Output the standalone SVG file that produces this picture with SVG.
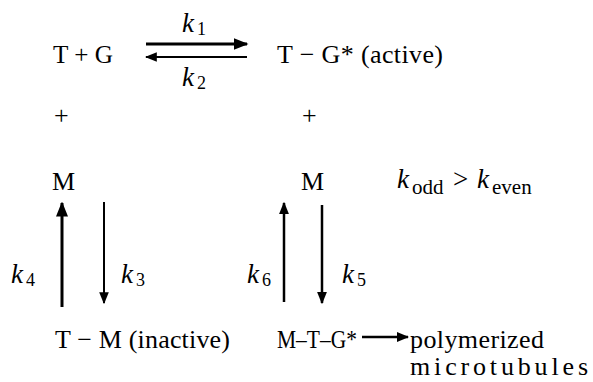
<svg xmlns="http://www.w3.org/2000/svg" width="593" height="382" viewBox="0 0 593 382">
<style>
text{font-family:"Liberation Serif","Times New Roman",serif;fill:#000;font-size:26px}
.k{font-style:italic;font-size:27px}
.s{font-size:18px;font-style:normal}
.s2{font-size:21px;font-style:normal}
.ln{stroke:#000;fill:none}
</style>
<defs>
<marker id="ah" viewBox="0 0 10 8" refX="9" refY="4" markerWidth="5" markerHeight="4" orient="auto" markerUnits="strokeWidth"><path d="M0,0L10,4L0,8Z" fill="#000"/></marker>
<marker id="ah2" viewBox="0 0 10 8" refX="9" refY="4" markerWidth="6" markerHeight="5" orient="auto" markerUnits="strokeWidth"><path d="M0,0L10,4L0,8Z" fill="#000"/></marker>
</defs>
<rect width="593" height="382" fill="#fff"/>
<g id="n-TG"><text x="53" y="63" textLength="60" lengthAdjust="spacingAndGlyphs">T + G</text></g>
<g id="n-TGstar"><text x="277" y="63" textLength="166">T − G* (active)</text></g>
<g id="n-plus1"><text x="54" y="124">+</text></g>
<g id="n-plus2"><text x="302" y="124">+</text></g>
<g id="n-M1"><text x="52" y="190">M</text></g>
<g id="n-M2"><text x="301" y="190">M</text></g>
<g id="n-rule"><text y="188" class="k"><tspan x="397">k</tspan><tspan class="s2" x="412" dy="6">odd</tspan><tspan x="453" dy="-6" style="font-style:normal">&gt;</tspan><tspan x="477">k</tspan><tspan class="s2" x="492" dy="6">even</tspan></text></g>
<g id="n-TM"><text x="55" y="348" textLength="175">T − M (inactive)</text></g>
<g id="n-MTG"><text x="277" y="348" textLength="80" lengthAdjust="spacingAndGlyphs">M–T–G*</text></g>
<g id="n-poly"><text x="410" y="348" textLength="134">polymerized</text><text x="410" y="375" textLength="178">microtubules</text></g>
<g id="labels">
<text class="k" x="182" y="32">k<tspan class="s" dy="3" dx="3">1</tspan></text>
<text class="k" x="182" y="86">k<tspan class="s" dy="3" dx="3">2</tspan></text>
<text class="k" x="11" y="283">k<tspan class="s" dy="3" dx="3">4</tspan></text>
<text class="k" x="121" y="283">k<tspan class="s" dy="3" dx="3">3</tspan></text>
<text class="k" x="247" y="283">k<tspan class="s" dy="3" dx="3">6</tspan></text>
<text class="k" x="342" y="283">k<tspan class="s" dy="3" dx="3">5</tspan></text>
</g>
<g id="connectors">
<line class="ln" x1="146" y1="44" x2="247" y2="44" stroke-width="3" marker-end="url(#ah)"/>
<line class="ln" x1="247" y1="57" x2="146" y2="57" stroke-width="2" marker-end="url(#ah2)"/>
<line class="ln" x1="62" y1="307" x2="62" y2="203" stroke-width="3" marker-end="url(#ah)"/>
<line class="ln" x1="104" y1="202" x2="104" y2="303" stroke-width="2" marker-end="url(#ah2)"/>
<line class="ln" x1="284" y1="302" x2="284" y2="203" stroke-width="2.5" marker-end="url(#ah)"/>
<line class="ln" x1="322" y1="205" x2="322" y2="303" stroke-width="2.5" marker-end="url(#ah)"/>
<line class="ln" x1="362" y1="337" x2="408" y2="337" stroke-width="2.5" marker-end="url(#ah)"/>
</g>
</svg>
